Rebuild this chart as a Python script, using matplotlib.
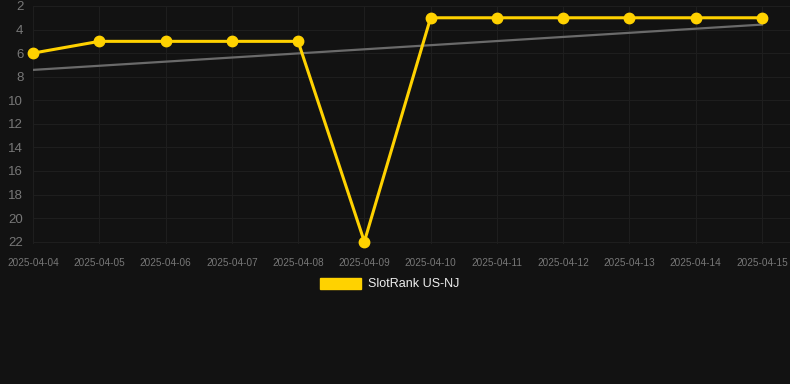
import numpy as np
import matplotlib
matplotlib.use("Agg")
import matplotlib.pyplot as plt
from matplotlib.patches import Patch

plt.rcParams["font.family"] = ["Liberation Sans", "DejaVu Sans"]

DATES = ["2025-04-04", "2025-04-05", "2025-04-06", "2025-04-07", "2025-04-08",
         "2025-04-09", "2025-04-10", "2025-04-11", "2025-04-12", "2025-04-13",
         "2025-04-14", "2025-04-15"]
RANK = [6, 5, 5, 5, 5, 22, 3, 3, 3, 3, 3, 3]
Y_TICKS = [2, 4, 6, 8, 10, 12, 14, 16, 18, 20, 22]
SERIES = "SlotRank US-NJ"

BG = "#121212"
GOLD = "#ffd200"

x = np.arange(len(DATES))
y = np.array(RANK, dtype=float)
slope, icpt = np.polyfit(x, y, 1)

fig = plt.figure(figsize=(7.9, 3.84), dpi=100, facecolor=BG)
ax = fig.add_axes([33 / 790, 1 - 244 / 384, 1 - 33 / 790, (244 - 6) / 384])
ax.set_facecolor(BG)

ax.plot(x, icpt + slope * x, color="#6a6a6a", lw=1.6, zorder=2)
ax.plot(x, y, color=GOLD, lw=2.2, marker="o", ms=7.5, zorder=3, clip_on=False)

ax.set_xlim(0, 756 / 728 * 11)
ax.set_ylim(22.2, 2)
ax.set_yticks(Y_TICKS)
ax.set_xticks(x)
ax.set_xticklabels(DATES)
ax.grid(True, color="#1e1e1e", lw=0.8)
ax.set_axisbelow(True)
for s in ax.spines.values():
    s.set_visible(False)
ax.tick_params(axis="x", length=0, pad=10, labelsize=7.2, colors="#777777")
ax.tick_params(axis="y", length=0, pad=7, labelsize=9.5, colors="#777777")

fig.legend(handles=[Patch(facecolor=GOLD, edgecolor=GOLD)], labels=[SERIES],
           loc="center", bbox_to_anchor=(0.493, 1 - 284 / 384), frameon=False,
           handlelength=3.3, handleheight=1.0, handletextpad=0.5,
           fontsize=9, labelcolor="#eeeeee")

fig.savefig("out.png", dpi=100, facecolor=BG)
